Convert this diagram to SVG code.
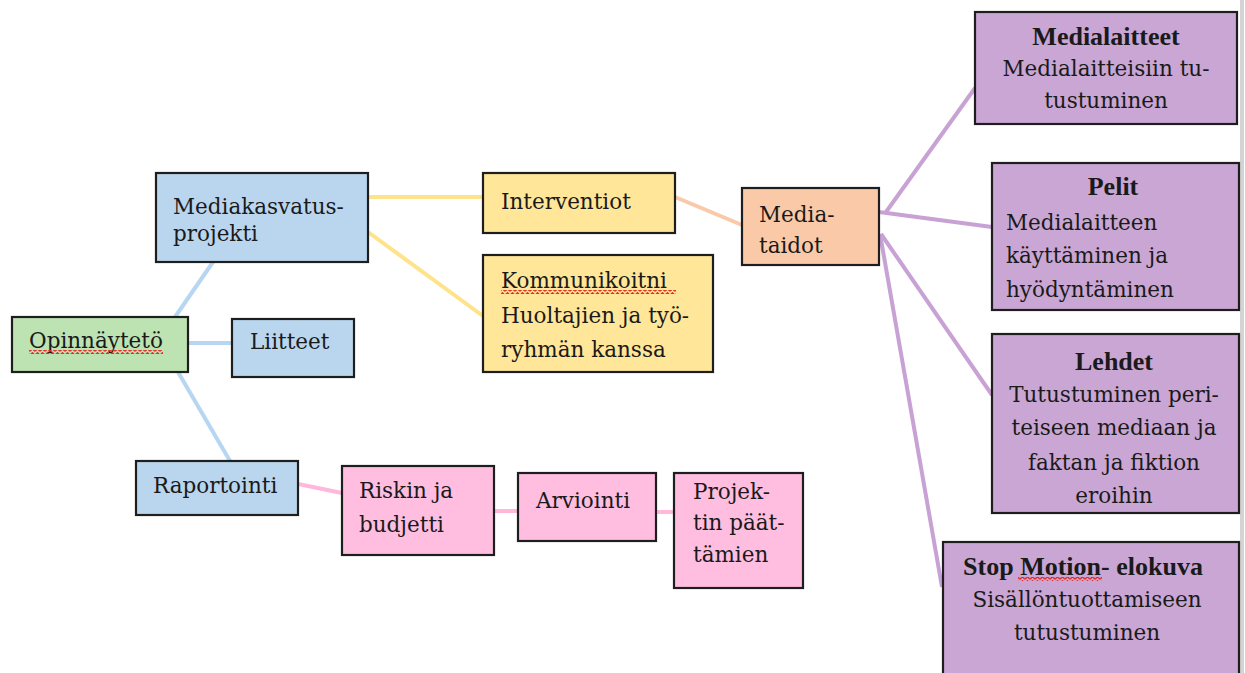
<svg xmlns="http://www.w3.org/2000/svg" width="1245" height="673" viewBox="0 0 1245 673">
<style>
.box{stroke:#1e1e1e;stroke-width:2.2}
.blue{fill:#BAD6EF}
.green{fill:#BDE3B3}
.yellow{fill:#FFE699}
.orange{fill:#FACAA8}
.pink{fill:#FFBEE0}
.purple{fill:#C9A6D3}
text{font-family:'DejaVu Serif',serif;font-size:21.5px;fill:#1a1a1a}
.b{font-family:'Liberation Serif','DejaVu Serif',serif;font-size:26px;font-weight:bold}
.c{text-anchor:middle}
.ln{fill:none;stroke-width:4;stroke-linecap:butt}
.lblue{stroke:#B7D6F2}
.lyellow{stroke:#FFE38A}
.lorange{stroke:#F9C9AA}
.lpurple{stroke:#C8A2D4}
.lpink{stroke:#FFB8DC}
.sq{fill:url(#wave)}
</style>
<defs>
<pattern id="wave" patternUnits="userSpaceOnUse" width="5" height="4">
<path d="M0,3.2 L2.5,0.8 L5,3.2" fill="none" stroke="#e0302a" stroke-width="1.5"/>
</pattern>
</defs>
<rect width="1245" height="673" fill="#ffffff"/>
<rect x="1240" y="0" width="4" height="673" fill="#d4d4d4"/>
<g id="connectors">
<path class="ln lblue" d="M175,317 L213,262"/>
<path class="ln lblue" d="M188,343 L232,343"/>
<path class="ln lblue" d="M178,372 L230,461"/>
<path class="ln lyellow" d="M368,197 L483,197"/>
<path class="ln lyellow" d="M368,232 L483,316"/>
<path class="ln lorange" d="M675,197 L742,225"/>
<path class="ln lpurple" d="M886,212 L975,88"/>
<path class="ln lpurple" d="M879,212 L992,227"/>
<path class="ln lpurple" d="M881,234 L992,395"/>
<path class="ln lpurple" d="M880,234 L942,587"/>
<path class="ln lpink" d="M298,484 L342,493"/>
<path class="ln lpink" d="M494,511 L518,511"/>
<path class="ln lpink" d="M656,512 L674,512"/>
</g>
<g id="mediakasvatus">
<rect class="box blue" x="156" y="173" width="212" height="89"/>
<text x="173" y="214">Mediakasvatus-</text>
<text x="173" y="241">projekti</text>
</g>
<g id="opinnaytetyo">
<rect class="box green" x="12" y="317" width="176" height="55"/>
<text x="29" y="348">Opinnäytetö</text>
<rect class="sq" x="29" y="350" width="134" height="4"/>
</g>
<g id="liitteet">
<rect class="box blue" x="232" y="319" width="122" height="58"/>
<text x="250" y="349">Liitteet</text>
</g>
<g id="raportointi">
<rect class="box blue" x="136" y="461" width="162" height="54"/>
<text x="153" y="493">Raportointi</text>
</g>
<g id="riskin">
<rect class="box pink" x="342" y="466" width="152" height="89"/>
<text x="359" y="498">Riskin ja</text>
<text x="359" y="532">budjetti</text>
</g>
<g id="arviointi">
<rect class="box pink" x="518" y="473" width="138" height="68"/>
<text x="536" y="508">Arviointi</text>
</g>
<g id="projektin">
<rect class="box pink" x="674" y="473" width="129" height="115"/>
<text x="693" y="499">Projek-</text>
<text x="693" y="530">tin päät-</text>
<text x="693" y="562">tämien</text>
</g>
<g id="interventiot">
<rect class="box yellow" x="483" y="173" width="192" height="60"/>
<text x="501" y="209">Interventiot</text>
</g>
<g id="kommunikoitni">
<rect class="box yellow" x="483" y="255" width="230" height="117"/>
<text x="501" y="288">Kommunikoitni</text>
<rect class="sq" x="501" y="290" width="175" height="4"/>
<text x="501" y="323">Huoltajien ja työ-</text>
<text x="501" y="357">ryhmän kanssa</text>
</g>
<g id="mediataidot">
<rect class="box orange" x="742" y="188" width="137" height="77"/>
<text x="759" y="222">Media-</text>
<text x="759" y="253">taidot</text>
</g>
<g id="medialaitteet">
<rect class="box purple" x="975" y="12" width="262" height="112"/>
<text class="b c" x="1106" y="45">Medialaitteet</text>
<text class="c" x="1106" y="76">Medialaitteisiin tu-</text>
<text class="c" x="1106" y="108">tustuminen</text>
</g>
<g id="pelit">
<rect class="box purple" x="992" y="163" width="247" height="147"/>
<text class="b c" x="1113" y="195">Pelit</text>
<text x="1006" y="230">Medialaitteen</text>
<text x="1006" y="263">käyttäminen ja</text>
<text x="1006" y="297">hyödyntäminen</text>
</g>
<g id="lehdet">
<rect class="box purple" x="992" y="334" width="247" height="179"/>
<text class="b c" x="1114" y="370">Lehdet</text>
<text class="c" x="1114" y="402">Tutustuminen peri-</text>
<text class="c" x="1114" y="435">teiseen mediaan ja</text>
<text class="c" x="1114" y="470">faktan ja fiktion</text>
<text class="c" x="1114" y="503">eroihin</text>
</g>
<g id="stopmotion">
<rect class="box purple" x="943" y="542" width="296" height="150"/>
<text class="b c" x="1083" y="575">Stop Motion- elokuva</text>
<rect class="sq" x="1018" y="577" width="84" height="4"/>
<text class="c" x="1087" y="607">Sisällöntuottamiseen</text>
<text class="c" x="1087" y="640">tutustuminen</text>
</g>
</svg>
